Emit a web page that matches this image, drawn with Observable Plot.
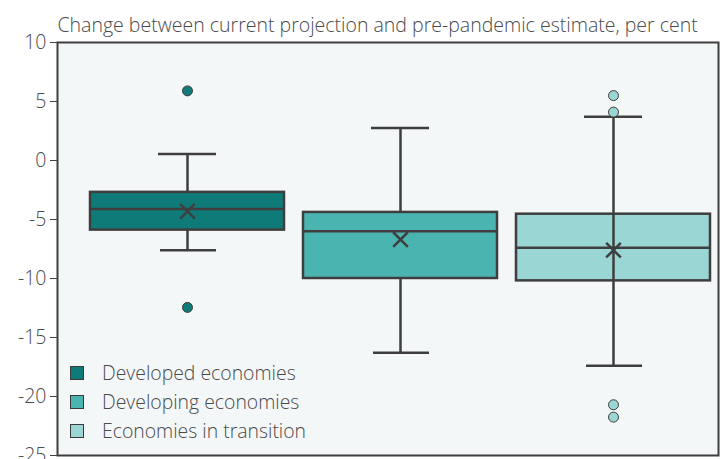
<!DOCTYPE html>
<html>
<head>
<meta charset="utf-8">
<script src="https://cdn.jsdelivr.net/npm/d3@7"></script>
<script src="https://cdn.jsdelivr.net/npm/@observablehq/plot@0.6"></script>
<style>
  html, body { margin: 0; padding: 0; background: #ffffff; }
  #wrap { position: relative; width: 725px; height: 459px; font-family: "Open Sans", sans-serif; }
  #legend { position: absolute; left: 70px; top: 358px; color: #4a4a4a; font-size: 19.4px; font-weight: 300; }
  #legend .row { display: flex; align-items: center; height: 29px; }
  #legend .sw { width: 14px; height: 14px; border: 1px solid #3a3a3a; box-sizing: border-box; margin-right: 18px; }
</style>
</head>
<body>
<div id="wrap"><div id="legend"></div></div>
<script>
const title = "Change between current projection and pre-pandemic estimate, per cent";
const categories = ["Developed economies", "Developing economies", "Economies in transition"];
const colors = ["#0f7b79", "#4ab5b0", "#9ad6d3"];
const whiskerLow = [-7.6, -16.3, -17.4];
const q1 = [-5.9, -10.0, -10.2];
const median = [-4.1, -6.0, -7.4];
const q3 = [-2.7, -4.4, -4.55];
const whiskerHigh = [0.55, 2.75, 3.7];
const mean = [-4.3, -6.7, -7.6];
const whiskerThroughBox = [false, false, true];
const outlierCategory = ["Developed economies", "Developed economies", "Economies in transition", "Economies in transition", "Economies in transition", "Economies in transition"];
const outlierValue = [5.9, -12.45, 5.5, 4.1, -20.7, -21.75];
const yTicks = [10, 5, 0, -5, -10, -15, -20, -25];

const boxes = categories.map((c, i) => ({
  cat: c, lo: whiskerLow[i], q1: q1[i], med: median[i], q3: q3[i], hi: whiskerHigh[i], mean: mean[i], through: whiskerThroughBox[i]
}));
const outliers = outlierCategory.map((c, i) => ({cat: c, v: outlierValue[i]}));
const ink = "#3e3e3e";

const chart = Plot.plot({
  width: 725,
  height: 459,
  marginLeft: 57,
  marginRight: 7,
  marginTop: 42,
  marginBottom: 4,
  style: {fontFamily: "Open Sans, sans-serif", fontSize: "18px", color: "#444", background: "transparent"},
  x: {domain: categories, range: [80, 720.5], paddingInner: 0.087, paddingOuter: 0.0435, axis: null},
  y: {domain: [-25, 10], axis: null},
  color: {domain: categories, range: colors},
  marks: [
    Plot.frame({fill: "#f4f7f8", stroke: "none"}),
    Plot.ruleX(boxes, {x: "cat", y1: "lo", y2: "q1", stroke: ink, strokeWidth: 2.5}),
    Plot.ruleX(boxes, {x: "cat", y1: "q3", y2: "hi", stroke: ink, strokeWidth: 2.5}),
    Plot.tickY(boxes, {x: "cat", y: "lo", stroke: ink, strokeWidth: 2.5, insetLeft: 70, insetRight: 68}),
    Plot.tickY(boxes, {x: "cat", y: "hi", stroke: ink, strokeWidth: 2.5, insetLeft: 68, insetRight: 68}),
    Plot.barY(boxes, {x: "cat", y1: "q1", y2: "q3", fill: "cat", stroke: ink, strokeWidth: 2.5}),
    Plot.tickY(boxes, {x: "cat", y: "med", stroke: ink, strokeWidth: 2.5}),
    Plot.ruleX(boxes.filter(d => d.through), {x: "cat", y1: "q1", y2: "q3", stroke: ink, strokeWidth: 2.5}),
    Plot.dot(boxes, {x: "cat", y: "mean", symbol: "times", r: 6.7, stroke: ink, strokeWidth: 2.5}),
    Plot.dot(outliers, {x: "cat", y: "v", r: 5, fill: "cat", stroke: ink, strokeWidth: 1}),
    Plot.axisY({ticks: yTicks, tickFormat: d => `${d}`, tickSize: 7, tickPadding: 4, stroke: ink, fill: "#4a4a4a", fontSize: 19.5, fontWeight: 300}),
    Plot.frame({stroke: ink, strokeWidth: 2}),
    Plot.text([title], {frameAnchor: "top-left", dy: -24, text: d => d, textAnchor: "start", fill: "#4a4a4a", fontSize: 19.5, fontWeight: 300})
  ]
});
document.getElementById("wrap").prepend(chart);

const legend = document.getElementById("legend");
categories.forEach((c, i) => {
  const row = document.createElement("div");
  row.className = "row";
  const sw = document.createElement("div");
  sw.className = "sw";
  sw.style.background = colors[i];
  const label = document.createElement("span");
  label.textContent = c;
  row.append(sw, label);
  legend.append(row);
});
</script>
</body>
</html>
